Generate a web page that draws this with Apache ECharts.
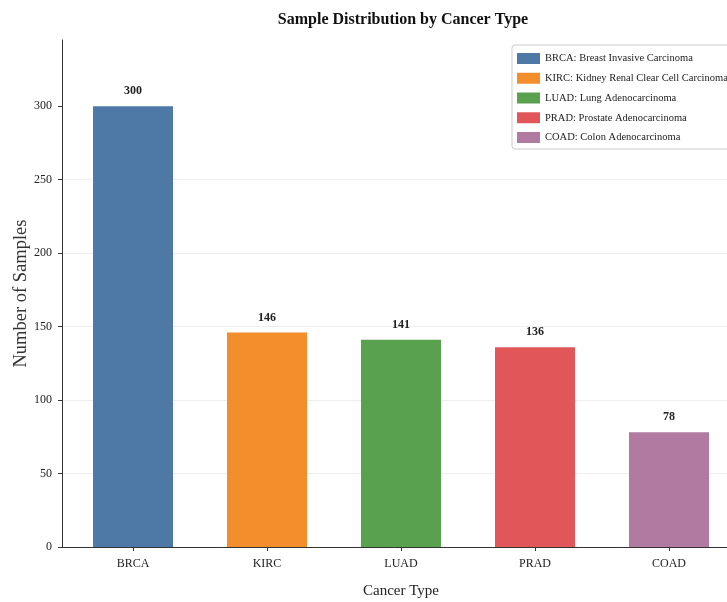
<!DOCTYPE html>
<html><head><meta charset="utf-8">
<script src="https://cdn.jsdelivr.net/npm/echarts@6/dist/echarts.min.js"></script>
<style>html,body{margin:0;padding:0;background:#fff}#c{width:727px;height:602px}</style>
</head><body><div id="c"></div>
<script>
const categories = ['BRCA','KIRC','LUAD','PRAD','COAD'];
const fullNames = ['BRCA: Breast Invasive Carcinoma','KIRC: Kidney Renal Clear Cell Carcinoma','LUAD: Lung Adenocarcinoma','PRAD: Prostate Adenocarcinoma','COAD: Colon Adenocarcinoma'];
const sampleCounts = [300, 146, 141, 136, 78];
const colors = ['#4e79a7','#f28e2b','#59a14f','#e15759','#b07aa1'];
const yTicks = [0,50,100,150,200,250,300];
const xTicks = [0,1,2,3,4];

const FONT = '"Liberation Serif", "DejaVu Serif", serif';
const series = categories.map((c, i) => ({
  name: fullNames[i],
  type: 'bar',
  stack: 'all',
  barWidth: 80,
  data: [[i, sampleCounts[i]]],
  itemStyle: { color: colors[i] },
  label: { show: true, position: 'top', distance: 9, fontFamily: FONT, fontWeight: 'bold', fontSize: 12, color: '#222',
    formatter: p => p.value[1] }
}));

const chart = echarts.init(document.getElementById('c'), null, {renderer: 'canvas'});
chart.setOption({
  animation: false,
  color: colors,
  title: { text: 'Sample Distribution by Cancer Type', left: 398, top: 7, textAlign: 'center',
    textStyle: { fontFamily: FONT, fontWeight: 'bold', fontSize: 16, color: '#111' } },
  legend: {
    orient: 'vertical', left: 512, top: 45, itemWidth: 23, itemHeight: 11, itemGap: 8.75,
    padding: [8, 10, 6, 5], borderColor: '#ccc', borderWidth: 1, borderRadius: 3,
    backgroundColor: '#fff',
    icon: 'rect',
    textStyle: { fontFamily: FONT, fontSize: 10.5, color: '#222' },
    data: fullNames
  },
  grid: { left: 62, top: 40, width: 678, height: 507, containLabel: false, outerBoundsMode: 'none' },
  xAxis: {
    type: 'value', min: -0.53, max: 4.53,
    name: 'Cancer Type', nameLocation: 'middle', nameGap: 37, nameMoveOverlap: false,
    nameTextStyle: { fontFamily: FONT, fontSize: 15, color: '#222' },
    axisLine: { show: true, onZero: false, lineStyle: { color: '#333', width: 1 } },
    axisTick: { show: true, length: 4, lineStyle: { color: '#333' }, customValues: xTicks },
    axisLabel: { fontFamily: FONT, fontSize: 12, color: '#222', margin: 11, customValues: xTicks,
      formatter: v => categories[Math.round(v)] },
    splitLine: { show: false }
  },
  yAxis: {
    type: 'value', min: 0, max: 345, interval: 50,
    name: 'Number of Samples', nameLocation: 'middle', nameGap: 31, nameMoveOverlap: false,
    nameTextStyle: { fontFamily: FONT, fontSize: 18.5, color: '#333' },
    axisLine: { show: true, onZero: false, lineStyle: { color: '#333', width: 1 } },
    axisTick: { show: true, length: 4, lineStyle: { color: '#333' }, customValues: yTicks },
    axisLabel: { fontFamily: FONT, fontSize: 12, color: '#222', margin: 10, customValues: yTicks },
    splitLine: { show: true, showMaxLine: false, lineStyle: { color: '#eeeeee', width: 1 } }
  },
  series: series
});
</script></body></html>
